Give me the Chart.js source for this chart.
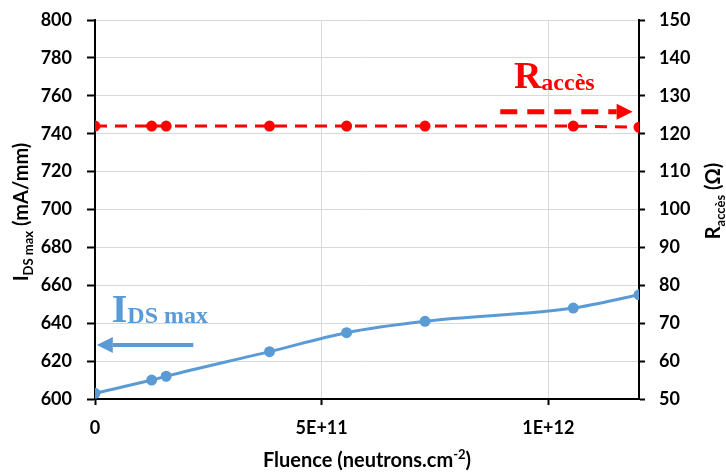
<!DOCTYPE html>
<html>
<head>
<meta charset="utf-8">
<script src="https://cdn.jsdelivr.net/npm/chart.js@4.4.0/dist/chart.umd.min.js"></script>
<style>
  html, body { margin: 0; padding: 0; background: #fff; }
</style>
</head>
<body>
<canvas id="chart" width="726" height="472"></canvas>
<script>
// values
const fluence = [0, 1.25e11, 1.57e11, 3.85e11, 5.55e11, 7.28e11, 1.055e12, 1.2e12];
const idsMax = [603, 610, 612, 625, 635, 641, 648, 655];
const rAcces = [122, 122, 122, 122, 122, 122, 122, 121.7];
const xTicks = [0, 5e11, 1e12];
const xTickLabels = ['0', '5E+11', '1E+12'];

const BLUE = '#5B9BD5';
const RED = '#FF0000';
const GRID = '#d9d9d9';
const FONT = 'Lato, "Open Sans", "Liberation Sans", sans-serif';
const SERIF = '"Liberation Serif", "DejaVu Serif", serif';

function points(xs, ys) {
  return xs.map((x, i) => ({x: x, y: ys[i]}));
}

// draw a row of text runs, each with its own font and vertical shift
function drawRuns(ctx, runs, x, y, align) {
  var total = 0;
  runs.forEach(r => { ctx.font = r.font; r.w = ctx.measureText(r.text).width; total += r.w; });
  var cx = align === 'center' ? x - total / 2 : x;
  runs.forEach(r => {
    ctx.font = r.font;
    ctx.fillText(r.text, cx, y + (r.dy || 0));
    cx += r.w;
  });
}

function arrow(ctx, x1, x2, y, color, width, dash, headLen, headHalf) {
  var dir = x2 > x1 ? 1 : -1;
  ctx.save();
  ctx.strokeStyle = color;
  ctx.fillStyle = color;
  ctx.lineWidth = width;
  ctx.setLineDash(dash);
  ctx.beginPath();
  ctx.moveTo(x1, y);
  ctx.lineTo(x2 - dir * headLen, y);
  ctx.stroke();
  ctx.setLineDash([]);
  ctx.beginPath();
  ctx.moveTo(x2, y);
  ctx.lineTo(x2 - dir * headLen, y - headHalf);
  ctx.lineTo(x2 - dir * headLen, y + headHalf);
  ctx.closePath();
  ctx.fill();
  ctx.restore();
}

const decorations = {
  id: 'decorations',
  afterDraw(chart) {
    const ctx = chart.ctx;
    const x = chart.scales.x, yl = chart.scales.y, yr = chart.scales.y2;
    const area = chart.chartArea;
    ctx.save();
    ctx.fillStyle = '#000';
    ctx.textBaseline = 'alphabetic';

    // bottom title
    drawRuns(ctx, [
      {text: 'Fluence (neutrons.cm', font: 'bold 20px ' + FONT},
      {text: '-2', font: 'bold 13px ' + FONT, dy: -8},
      {text: ')', font: 'bold 20px ' + FONT}
    ], (area.left + area.right) / 2, 467, 'center');

    // left title
    ctx.save();
    ctx.translate(28, 212);
    ctx.rotate(-Math.PI / 2);
    drawRuns(ctx, [
      {text: 'I', font: 'bold 20px ' + FONT},
      {text: 'DS max', font: 'bold 13px ' + FONT, dy: 5},
      {text: ' (mA/mm)', font: 'bold 20px ' + FONT}
    ], 0, 0, 'center');
    ctx.restore();

    // right title
    ctx.save();
    ctx.translate(720, 201);
    ctx.rotate(-Math.PI / 2);
    drawRuns(ctx, [
      {text: 'R', font: 'bold 20px ' + FONT},
      {text: 'accès', font: 'bold 13px ' + FONT, dy: 5},
      {text: ' (Ω)', font: 'bold 20px ' + FONT}
    ], 0, 0, 'center');
    ctx.restore();

    // IDS max label and arrow
    ctx.fillStyle = BLUE;
    drawRuns(ctx, [
      {text: 'I', font: 'bold 40px ' + SERIF},
      {text: 'DS max', font: 'bold 24px ' + SERIF, dy: 1}
    ], x.getPixelForValue(0.37e11), yl.getPixelForValue(640.8), 'left');
    arrow(ctx, x.getPixelForValue(2.17e11), x.getPixelForValue(0.04e11), yl.getPixelForValue(628.5),
      BLUE, 4, [], 16, 8);

    // Raccès label and arrow
    ctx.fillStyle = RED;
    drawRuns(ctx, [
      {text: 'R', font: 'bold 38px ' + SERIF},
      {text: 'accès', font: 'bold 24px ' + SERIF, dy: 2}
    ], x.getPixelForValue(9.24e11), yr.getPixelForValue(132.1), 'left');
    arrow(ctx, x.getPixelForValue(8.94e11), x.getPixelForValue(1.186e12), yr.getPixelForValue(125.8),
      RED, 5, [17, 10], 16, 8);

    ctx.restore();
  }
};

new Chart(document.getElementById('chart'), {
  type: 'scatter',
  data: {
    datasets: [
      {
        label: 'IDS max',
        data: points(fluence, idsMax),
        yAxisID: 'y',
        showLine: true,
        borderColor: BLUE,
        backgroundColor: BLUE,
        borderWidth: 3,
        pointRadius: 4,
        pointHoverRadius: 4,
        cubicInterpolationMode: 'monotone'
      },
      {
        label: 'Raccès',
        data: points(fluence, rAcces),
        yAxisID: 'y2',
        showLine: true,
        borderColor: RED,
        backgroundColor: RED,
        borderWidth: 3,
        borderDash: [12, 8],
        pointRadius: 4,
        pointHoverRadius: 4
      }
    ]
  },
  options: {
    responsive: false,
    animation: false,
    devicePixelRatio: 1,
    layout: {padding: {top: 20, right: 0, left: 0, bottom: 0}},
    plugins: {legend: {display: false}, tooltip: {enabled: false}},
    scales: {
      x: {
        type: 'linear',
        min: 0,
        max: 1.2e12,
        afterBuildTicks: s => { s.ticks = xTicks.map(v => ({value: v})); },
        afterFit: s => { s.height = 73; s.paddingLeft = 0; s.paddingRight = 0; },
        grid: {color: c => c.tick && c.tick.value === 0 ? 'rgba(0,0,0,0)' : GRID, tickColor: '#000', tickLength: 6, tickWidth: 2},
        border: {color: '#000', width: 2},
        ticks: {
          padding: 12,
          color: '#000',
          font: {family: FONT, size: 18, weight: 'bold'},
          maxRotation: 0,
          callback: v => xTickLabels[xTicks.indexOf(v)]
        }
      },
      y: {
        position: 'left',
        min: 600,
        max: 800,
        afterFit: s => { s.width = 95; s.paddingTop = 0; s.paddingBottom = 0; },
        grid: {color: GRID, tickColor: '#000', tickLength: 8, tickWidth: 2},
        border: {color: '#000', width: 2},
        ticks: {stepSize: 20, padding: 15, color: '#000', font: {family: FONT, size: 18, weight: 'bold'}}
      },
      y2: {
        position: 'right',
        min: 50,
        max: 150,
        afterFit: s => { s.width = 87; s.paddingTop = 0; s.paddingBottom = 0; },
        grid: {drawOnChartArea: false, tickColor: '#000', tickLength: 6, tickWidth: 2},
        border: {color: '#000', width: 2},
        ticks: {stepSize: 10, padding: 14, color: '#000', font: {family: FONT, size: 18, weight: 'bold'}}
      }
    }
  },
  plugins: [decorations]
});
</script>
</body>
</html>
